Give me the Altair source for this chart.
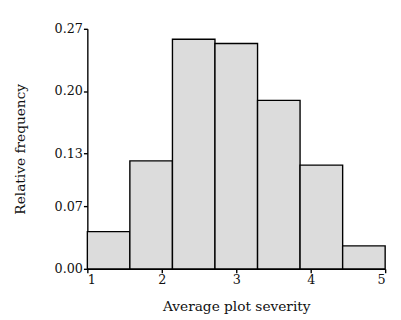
import altair as alt
import pandas as pd

# Histogram bins (average plot severity) and relative frequencies
bin_start = [1.000, 1.571, 2.143, 2.714, 3.286, 3.857, 4.429]
bin_end = [1.571, 2.143, 2.714, 3.286, 3.857, 4.429, 5.000]
rel_freq = [0.0419, 0.1214, 0.2583, 0.2535, 0.1895, 0.1167, 0.0258]

x_ticks = [1, 2, 3, 4, 5]
y_ticks = [0.00, 0.07, 0.13, 0.20, 0.27]

df = pd.DataFrame({"start": bin_start, "end": bin_end, "freq": rel_freq})

FONT = "DejaVu Serif"

chart = (
    alt.Chart(df)
    .mark_bar(fill="#dcdcdc", stroke="#000000", strokeWidth=1.4, binSpacing=0)
    .encode(
        x=alt.X(
            "start:Q",
            scale=alt.Scale(domain=[1, 5], nice=False, zero=False),
            axis=alt.Axis(
                title="Average plot severity",
                values=x_ticks,
                format="d",
                grid=False,
                tickSize=4,
                labelPadding=1,
                titlePadding=14,
            ),
        ),
        x2="end:Q",
        y=alt.Y(
            "freq:Q",
            scale=alt.Scale(domain=[0, 0.27], nice=False),
            axis=alt.Axis(
                title="Relative frequency",
                values=y_ticks,
                format=".2f",
                grid=False,
                tickSize=4,
                labelPadding=1,
                titlePadding=27,
            ),
        ),
        y2=alt.Y2Datum(0),
    )
    .properties(
        width=304,
        height=245,
        autosize=alt.AutoSizeParams(type="none"),
        padding={"left": 81, "top": 18, "right": 8, "bottom": 49},
    )
    .configure_view(stroke=None)
    .configure_axis(
        domainColor="#000000",
        domainWidth=1.4,
        tickColor="#000000",
        tickWidth=1.4,
        labelFont=FONT,
        labelFontSize=13,
        labelColor="#111111",
        titleFont=FONT,
        titleFontSize=14,
        titleFontWeight="normal",
        titleColor="#111111",
    )
)

chart.save("out.html", embed_options={"renderer": "svg", "actions": False})
